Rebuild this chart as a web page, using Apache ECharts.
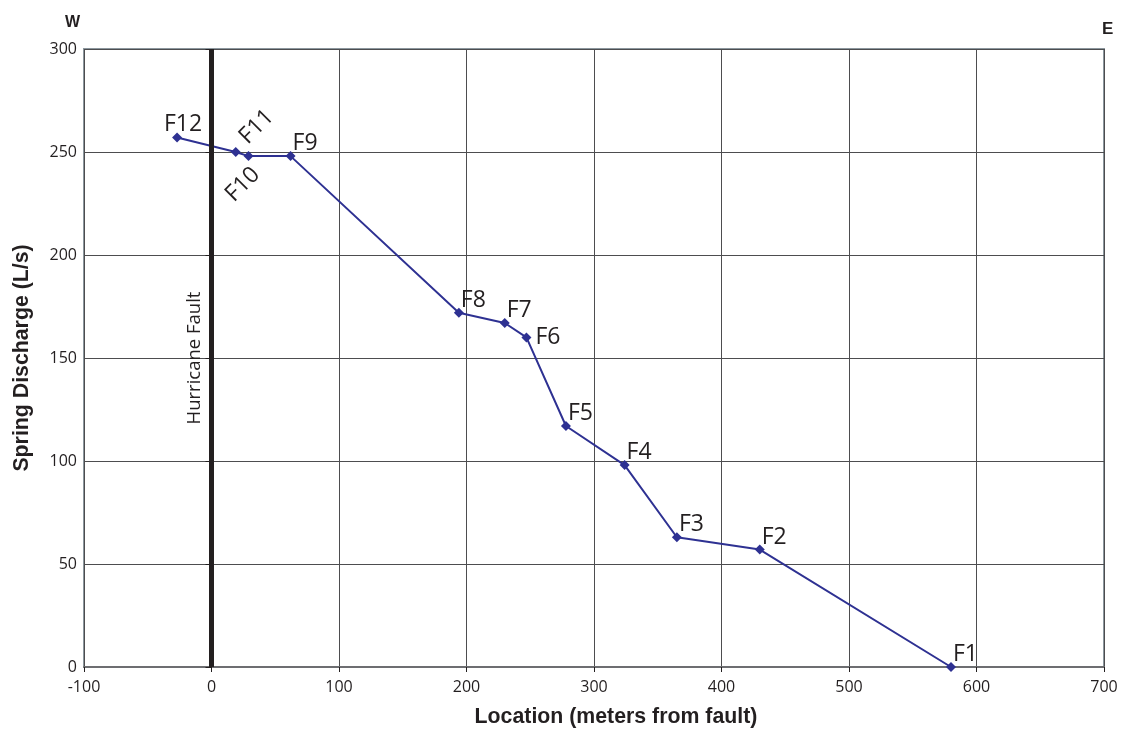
<!DOCTYPE html>
<html>
<head>
<meta charset="utf-8">
<title>Spring Discharge vs Location</title>
<script src="https://cdn.jsdelivr.net/npm/echarts@6/dist/echarts.min.js"></script>
<style>
    html, body { margin: 0; padding: 0; background: #fff; }
    #chart { width: 1125px; height: 732px; }
</style>
</head>
<body>
<div id="chart"></div>
<script>
    // springs, west to east
    var springNames = ['F12', 'F11', 'F10', 'F9', 'F8', 'F7', 'F6', 'F5', 'F4', 'F3', 'F2', 'F1'];
    var location_m = [-27, 19, 29, 62, 194, 230, 247, 278, 324, 365, 430, 580];
    var discharge = [257, 250, 248, 248, 172, 167, 160, 117, 98, 63, 57, 0];
    var faultX = 0;

    var tickFont = '"Open Sans", "Noto Sans", sans-serif';
    var boldFont = '"Liberation Sans", Arial, sans-serif';

    // a few labels sit differently in the original
    var labelFix = {
        F12: { position: 'top', align: 'center', offset: [6, 3] },
        F11: { rotate: 45, offset: [10, 12] },
        F10: { position: 'bottom', align: 'right', verticalAlign: 'top', rotate: 45, offset: [-1.5, 1] },
        F6: { position: 'right', verticalAlign: 'middle', distance: 4, offset: [0, 0] }
    };

    var seriesData = springNames.map(function (n, i) {
        var d = { name: n, value: [location_m[i], discharge[i]] };
        if (labelFix[n]) d.label = labelFix[n];
        return d;
    });

    var myChart = echarts.init(document.getElementById('chart'));
    myChart.setOption({
        animation: false,
        title: [
            { text: 'W', left: 60, top: 10, textStyle: { fontFamily: boldFont, fontSize: 16, fontWeight: 'bold', color: '#231f20' } },
            { text: 'E', left: 1097, top: 16, textStyle: { fontFamily: boldFont, fontSize: 17, fontWeight: 'bold', color: '#231f20' } }
        ],
        grid: {
            left: 84,
            right: 21,
            top: 49,
            bottom: 65,
            outerBoundsMode: 'none',
            show: true,
            borderColor: '#8c979e',
            borderWidth: 2
        },
        xAxis: {
            type: 'value',
            min: -100,
            max: 700,
            interval: 100,
            name: 'Location (meters from fault)',
            nameLocation: 'middle',
            nameGap: 40,
            nameTextStyle: { fontFamily: boldFont, fontSize: 21.3, fontWeight: 'bold', color: '#231f20', padding: [0, 0, 0, 44] },
            axisLine: { onZero: false, lineStyle: { color: '#6d6e71', width: 2 } },
            axisTick: { length: 5, lineStyle: { color: '#231f20' } },
            axisLabel: { fontFamily: tickFont, fontSize: 16, color: '#231f20', margin: 12 },
            splitLine: { lineStyle: { color: '#4d4d4f', width: 1 } }
        },
        yAxis: {
            type: 'value',
            min: 0,
            max: 300,
            interval: 50,
            name: 'Spring Discharge (L/s)',
            nameLocation: 'middle',
            nameGap: 51,
            nameTextStyle: { fontFamily: boldFont, fontSize: 21.3, fontWeight: 'bold', color: '#231f20' },
            axisLine: { show: true, lineStyle: { color: '#8c979e', width: 2 } },
            axisTick: { show: true, length: 6, lineStyle: { color: '#231f20' } },
            axisLabel: { fontFamily: tickFont, fontSize: 16, color: '#231f20', margin: 7 },
            splitLine: { lineStyle: { color: '#4d4d4f', width: 1 } }
        },
        series: [
            {
                name: 'Spring discharge',
                type: 'line',
                data: seriesData,
                symbol: 'diamond',
                symbolSize: 10,
                lineStyle: { color: '#2e3192', width: 2 },
                itemStyle: { color: '#2e3192' },
                label: {
                    show: true,
                    formatter: '{b}',
                    position: 'top',
                    align: 'left',
                    verticalAlign: 'bottom',
                    distance: 0,
                    offset: [2, 4],
                    fontFamily: tickFont,
                    fontSize: 23,
                    color: '#231f20'
                },
                markLine: {
                    silent: true,
                    symbol: ['none', 'none'],
                    lineStyle: { color: '#231f20', width: 5, type: 'solid' },
                    label: {
                        show: true,
                        formatter: 'Hurricane Fault',
                        position: 'insideMiddleTop',
                        distance: 5,
                        padding: [0, 0, 2, 0],
                        fontFamily: tickFont,
                        fontSize: 18.5,
                        color: '#231f20'
                    },
                    data: [{ xAxis: faultX }]
                }
            }
        ]
    });
</script>
</body>
</html>
